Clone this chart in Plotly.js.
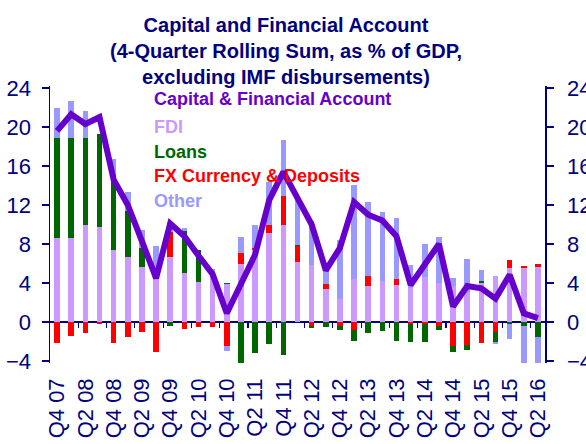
<!DOCTYPE html>
<html>
<head>
<meta charset="utf-8">
<script src="https://cdn.plot.ly/plotly-3.0.1.min.js"></script>
<style>
html,body{margin:0;padding:0;background:#fff;}
#chart{width:586px;height:444px;}
</style>
</head>
<body>
<div id="chart"></div>
<script>
// ---- DATA ----
var quarters = ["Q4 07","Q1 08","Q2 08","Q3 08","Q4 08","Q1 09","Q2 09","Q3 09","Q4 09",
  "Q1 10","Q2 10","Q3 10","Q4 10","Q1 11","Q2 11","Q3 11","Q4 11",
  "Q1 12","Q2 12","Q3 12","Q4 12","Q1 13","Q2 13","Q3 13","Q4 13",
  "Q1 14","Q2 14","Q3 14","Q4 14","Q1 15","Q2 15","Q3 15","Q4 15","Q1 16","Q2 16"];
var tickLabels = ["Q4 07","Q2 08","Q4 08","Q2 09","Q4 09","Q2 10","Q4 10","Q2 11","Q4 11",
  "Q2 12","Q4 12","Q2 13","Q4 13","Q2 14","Q4 14","Q2 15","Q4 15","Q2 16"];

var fdi   = [8.6, 8.6, 9.9, 9.7, 7.4, 6.7, 5.6, 5.3, 6.7,
             5.0, 4.15, 4.5, 3.85, 5.9, 7.35, 9.1, 10.0,
             6.2, 5.8, 3.35, 2.4, 4.45, 3.65, 4.2, 3.75,
             3.5, 4.65, 4.0, 3.7, 3.0, 4.0, 4.7, 5.5, 5.5, 5.6];
var fx    = [-2.15, -1.45, -1.15, -0.15, -2.1, -1.5, -1.0, -3.1, 2.55,
             -0.7, -0.55, -0.5, -2.5, 1.15, 0.25, 0.8, 2.9,
             1.55, -0.4, 0.6, -0.45, -0.8, 1.1, 0, 0.7,
             -0.25, -0.25, -0.4, -2.5, -2.35, -2.2, -1.0, 0.9, 0.2, 0.4];
var loans = [10.3, 10.3, 9.0, 9.6, 7.7, 4.65, 2.0, 0, -0.4,
             4.3, 3.25, 0, 0.15, -4.2, -3.2, -2.25, -3.4,
             0.1, -0.2, -0.5, -0.35, -1.1, -1.1, -0.9, -1.9,
             -1.75, -1.75, -0.45, -0.55, -0.55, 0.25, -1.0, -0.15, -0.45, -1.5];
var other = [3.0, 3.8, 2.7, 0, 1.65, 1.95, 1.8, 2.45, 1.0,
             0.3, 0, 0.9, -0.5, 1.65, 2.3, 4.5, 5.8,
             4.9, 4.6, 1.45, 6.0, 9.65, 7.55, 7.1, 6.25,
             2.3, 3.35, 4.7, 0.85, 3.45, 1.1, -0.3, -1.55, -3.75, -2.7];
var capFin = [19.6, 21.3, 20.3, 21.0, 14.6, 12.0, 8.3, 4.5, 10.1,
              8.8, 6.8, 4.9, 0.9, 3.8, 6.9, 12.5, 15.4,
              12.7, 10.0, 5.3, 7.6, 12.3, 11.0, 10.4, 8.8,
              3.8, 5.9, 8.0, 1.6, 3.7, 3.45, 2.4, 4.85, 0.9, 0.4];

var seriesNames = ["Capital & Financial Account","FDI","Loans","FX Currency & Deposits","Other"];
var colors = {cap:"#6600CC", fdi:"#CC99FF", loans:"#006600", fx:"#FF0000", other:"#9999FF"};
var navy = "#000080";

// ---- BUILD ----
var xIdx = quarters.map(function(q,i){return i;});
var tickIdx = tickLabels.map(function(t){return quarters.indexOf(t);});
var minorTicks = [];
for (var i=1;i<quarters.length-1;i+=2) minorTicks.push(i+0.5);

function barTrace(name, vals, col){
  return {type:"bar", x:xIdx, y:vals, name:name, width:0.4,
    marker:{color:col, line:{width:0}}, hoverinfo:"skip", showlegend:false};
}
var traces = [
  barTrace("FDI", fdi, colors.fdi),
  barTrace("FX Currency & Deposits", fx, colors.fx),
  barTrace("Loans", loans, colors.loans),
  barTrace("Other", other, colors.other),
  {type:"scatter", mode:"lines", x:xIdx, y:capFin, name:"Capital & Financial Account",
   xaxis:"x2", yaxis:"y2", line:{color:colors.cap, width:6}, hoverinfo:"skip", showlegend:false}
];

var yRange = [-4.2, 24.2];
var yTicks = [-4,0,4,8,12,16,20,24];
var zeroFrac = (0 - yRange[0])/(yRange[1]-yRange[0]);
var font = "Liberation Sans, Arial, sans-serif";

var yCommon = {range:yRange, tickvals:yTicks, ticks:"outside", ticklen:7, tickwidth:1.5,
  tickcolor:navy, showline:true, linecolor:navy, linewidth:1.5, showgrid:false,
  tickfont:{family:font, size:22, color:navy}, fixedrange:true};

var legendCols = [colors.cap, colors.fdi, colors.loans, colors.fx, colors.other];
var legendY = [0.953, 0.852, 0.762, 0.675, 0.585];
var annotations = seriesNames.map(function(n,i){
  return {text:"<b>"+n+"</b>", xref:"paper", yref:"paper", x:0.206, y:legendY[i],
    xanchor:"left", yanchor:"middle", showarrow:false,
    font:{family:font, size:18, color:legendCols[i]}};
});

var layout = {
  width:586, height:444,
  margin:{l:50, r:41, t:86, b:81, pad:0},
  paper_bgcolor:"#fff", plot_bgcolor:"rgba(0,0,0,0)",
  barmode:"relative", bargap:0,
  showlegend:false,
  title:{text:"<b>Capital and Financial Account<br>(4-Quarter Rolling Sum, as % of GDP,<br>excluding IMF disbursements)</b>",
    font:{family:font, size:20, color:navy}, x:286/586, xref:"container", xanchor:"center",
    y:1-32/444, yref:"container", yanchor:"top"},
  xaxis:{range:[-0.5, quarters.length-0.5], tickvals:tickIdx, ticktext:tickLabels,
    tickangle:-90, ticks:"", showline:false, showgrid:false, zeroline:false,
    tickfont:{family:font, size:22, color:navy}, ticklabelstandoff:10, fixedrange:true},
  xaxis2:{range:[-0.5, quarters.length-0.5], overlaying:"x", anchor:"free", position:zeroFrac,
    tickvals:minorTicks, ticks:"outside", ticklen:5, tickwidth:1.2, tickcolor:navy,
    showticklabels:false, showline:false, showgrid:false, zeroline:false, fixedrange:true},
  yaxis:Object.assign({}, yCommon, {side:"left", ticklabelstandoff:6, zeroline:true, zerolinecolor:navy, zerolinewidth:1.5}),
  yaxis2:Object.assign({}, yCommon, {side:"right", ticklabelstandoff:9, overlaying:"y", anchor:"free", position:1, zeroline:false}),
  annotations:annotations
};

Plotly.newPlot("chart", traces, layout, {displayModeBar:false, staticPlot:true});
</script>
</body>
</html>
